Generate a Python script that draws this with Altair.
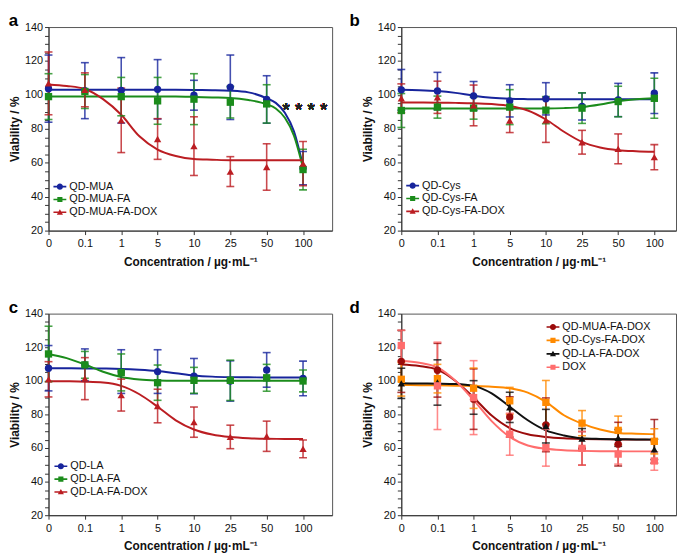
import altair as alt
import pandas as pd

# ---------------- data ----------------
conc_labels = ["0", "0.1", "1", "5", "10", "25", "50", "100"]
x_title = "Concentration / µg·mL⁻¹"
y_title = "Viability / %"

# Panel a
a_series = ["QD-MUA", "QD-MUA-FA", "QD-MUA-FA-DOX"]
a_mean = [
    [103.7, 102.5, 102.7, 103.3, 99.8, 104.5, 97.3, 56.8],
    [99.0, 102.0, 99.0, 96.5, 97.5, 95.7, 94.7, 56.0],
    [106.8, 103.0, 85.0, 74.0, 69.8, 54.8, 57.5, 59.5],
]
a_sd = [
    [19.8, 16.5, 19.3, 17.5, 8.8, 19.0, 14.0, 9.8],
    [13.5, 10.0, 11.3, 13.8, 15.0, 9.3, 11.3, 12.0],
    [18.5, 10.0, 19.0, 12.0, 17.3, 8.8, 13.7, 13.0],
]
a_curve_x = [0, 0.5, 1, 1.5, 2, 2.5, 3, 3.5, 4, 4.5, 5, 5.5, 6, 6.25, 6.5, 6.75, 7]
a_curve_y = [
    [103, 103, 103, 103, 103, 103, 103, 103, 102.9, 102.8, 102.5, 101.5, 98, 95.3, 89.5, 78.5, 58],
    [99, 99, 99, 99, 99, 99, 99, 99, 98.8, 98.5, 98.2, 97, 94.5, 92, 86.5, 76, 57],
    [106.2, 105.3, 103.5, 97.5, 88.3, 75.6, 67.8, 64, 62.2, 61.8, 61.5, 61.5, 61.5, 61.5, 61.5, 61.5, 61.5],
]
a_note = "* * * *"

# Panel b
b_series = ["QD-Cys", "QD-Cys-FA", "QD-Cys-FA-DOX"]
b_mean = [
    [103.0, 102.3, 99.4, 96.5, 97.7, 93.2, 97.0, 101.0],
    [90.8, 92.8, 92.2, 92.8, 91.0, 92.2, 96.1, 98.0],
    [98.0, 98.6, 93.8, 84.8, 85.0, 72.1, 68.2, 63.3],
]
b_sd = [
    [12.0, 11.0, 8.5, 9.5, 9.5, 8.0, 9.8, 12.0],
    [10.0, 6.5, 6.5, 10.3, 8.0, 9.0, 9.0, 11.8],
    [8.5, 9.5, 12.0, 7.0, 13.0, 7.0, 8.8, 7.4],
]
b_curve_x = [0, 0.5, 1, 1.5, 2, 2.5, 3, 3.5, 4, 4.5, 5, 5.5, 6, 6.5, 7]
b_curve_y = [
    [103, 102.8, 102.3, 101.2, 99.5, 98.3, 97.7, 97.5, 97.4, 97.4, 97.4, 97.4, 97.4, 97.4, 97.4],
    [92, 92, 92, 92, 92, 92, 92, 92, 92, 92.2, 92.8, 94.3, 96.3, 97.4, 98],
    [95.5, 95.5, 95.4, 95.3, 95.1, 94.6, 93.5, 90.8, 85.5, 78.3, 72.3, 69, 67.4, 66.8, 66.5],
]

# Panel c
c_series = ["QD-LA", "QD-LA-FA", "QD-LA-FA-DOX"]
c_mean = [
    [107.5, 109.5, 105.5, 105.5, 102.8, 99.9, 106.5, 101.4],
    [116.0, 109.5, 105.0, 98.9, 100.3, 100.3, 101.8, 99.9],
    [100.9, 101.3, 91.5, 85.0, 75.4, 66.6, 67.0, 59.5],
]
c_sd = [
    [13.5, 9.5, 13.0, 13.0, 10.5, 12.0, 10.3, 10.3],
    [16.5, 8.0, 11.0, 10.5, 7.7, 12.0, 8.0, 6.5],
    [10.5, 12.5, 9.5, 10.0, 9.0, 7.0, 9.0, 5.3],
]
c_curve_x = [0, 0.5, 1, 1.5, 2, 2.5, 3, 3.5, 4, 4.5, 5, 5.5, 6, 6.5, 7]
c_curve_y = [
    [107.5, 107.5, 107.4, 107.3, 107.1, 106.6, 105.8, 104.5, 103.2, 102.5, 102.2, 102.1, 102, 102, 102],
    [116, 113.5, 109.7, 105.4, 102.3, 100.8, 100.2, 100, 100, 100, 100, 100, 100, 100, 100],
    [99.8, 99.7, 99.5, 99, 97, 92, 84.6, 76.5, 71, 68, 66.5, 65.8, 65.5, 65.4, 65.3],
]

# Panel d
d_series = ["QD-MUA-FA-DOX", "QD-Cys-FA-DOX", "QD-LA-FA-DOX", "DOX"]
d_mean = [
    [111.6, 106.3, 89.1, 78.5, 73.8, 59.8, 62.3, 64.0],
    [100.9, 101.3, 95.6, 88.1, 87.2, 74.8, 70.5, 64.0],
    [98.5, 99.0, 90.1, 84.2, 73.0, 65.6, 66.0, 59.2],
    [121.0, 97.0, 90.0, 68.2, 60.2, 59.8, 56.4, 52.3],
]
d_sd = [
    [18.5, 16.0, 18.0, 12.0, 16.0, 10.0, 13.0, 13.0],
    [10.0, 8.5, 12.0, 8.0, 13.0, 7.5, 8.5, 7.5],
    [9.0, 13.5, 10.0, 9.0, 10.0, 6.0, 5.0, 6.0],
    [9.0, 26.0, 22.0, 12.5, 11.0, 10.0, 6.0, 5.5],
]
d_curve_x = [0, 0.5, 1, 1.5, 2, 2.5, 3, 3.5, 4, 4.5, 5, 5.5, 6, 6.5, 7]
d_curve_y = [
    [109.7, 108.8, 106.7, 99.9, 90.1, 79.3, 71.9, 68.2, 66.6, 65.8, 65.4, 65.2, 65.1, 65, 65],
    [97.5, 97.4, 97.3, 97.1, 96.9, 96.5, 95.6, 93, 87.5, 79.5, 74.5, 71, 69, 68.5, 68.2],
    [98.5, 98.4, 98.3, 98.1, 97, 92.5, 84.6, 76.5, 70.5, 67.5, 65.8, 65.4, 65.2, 65.1, 65],
    [111.8, 110.8, 108, 100, 88.5, 76, 66.6, 61.5, 59.5, 58.7, 58.3, 58.1, 58, 58, 58],
]

# ---------------- styles ----------------
FONT = "Liberation Sans"
BLUE, GREEN, RED = "#17249c", "#1b8c1b", "#bb1d22"
DRED, ORANGE, BLACK, PINK = "#9b0b0b", "#ff8a00", "#111111", "#ff6d6d"

LEG_CIRCLE = ("M-1.3,-0.16H1.3V0.16H-1.3Z "
              "M0.62,0A0.62,0.62,0,1,1,-0.62,0A0.62,0.62,0,1,1,0.62,0Z")
LEG_SQUARE = ("M-1.3,-0.16H-0.52V-0.52H0.52V-0.16H1.3V0.16H0.52V0.52"
              "H-0.52V0.16H-1.3Z")
LEG_TRI = ("M-1.3,-0.16H-0.27L0,-0.62L0.27,-0.16H1.3V0.16H0.44L0.62,0.48"
           "H-0.62L-0.44,0.16H-1.3Z")

label_js = "[" + ",".join("'" + s + "'" for s in conc_labels) + "][datum.value]"


def panel(letter, series, means, sds, curve_x, curve_ys, colors, shapes,
          leg_shapes, width, height, xmax, leg_x, leg_y, row_pad, title_dx,
          note=None):
    pts = []
    for s, m_list, sd_list in zip(series, means, sds):
        for i, (m, sd) in enumerate(zip(m_list, sd_list)):
            pts.append({"series": s, "x": i, "mean": m, "lo": m - sd, "hi": m + sd})
    pts = pd.DataFrame(pts)
    crv = []
    for s, ys in zip(series, curve_ys):
        for xv, yv in zip(curve_x, ys):
            crv.append({"series": s, "x": xv, "y": yv})
    crv = pd.DataFrame(crv)

    xscale = alt.Scale(domain=[0, xmax], nice=False, zero=False)
    xaxis = alt.Axis(values=list(range(len(conc_labels))),
                     labelExpr=label_js, grid=False, tickSize=4,
                     labelPadding=3, titlePadding=8, labelFlush=False,
                     labelOverlap=False)
    xenc = alt.X("x:Q", title=x_title, scale=xscale, axis=xaxis)
    yaxis = alt.Axis(values=list(range(20, 141, 5)),
                     labelExpr="datum.value % 20 == 0 ? datum.label : ''",
                     grid=False, tickSize=4, labelPadding=2, titlePadding=3,
                     labelOverlap=False)
    yscale = alt.Scale(domain=[20, 140], nice=False, zero=False)
    cscale = alt.Scale(domain=series, range=colors)

    def Y(field):
        return alt.Y(field, title=y_title, scale=yscale, axis=yaxis)

    def col(legend=None):
        return alt.Color("series:N", scale=cscale, legend=legend)

    curves = alt.Chart(crv).mark_line(strokeWidth=2, interpolate="monotone").encode(
        x=xenc, y=Y("y:Q"), color=col(), detail="series:N")
    rules = alt.Chart(pts).mark_rule(strokeWidth=1.6, opacity=0.8).encode(
        x=xenc, y=Y("lo:Q"), y2="hi:Q", color=col())
    cap_lo = alt.Chart(pts).mark_tick(orient="horizontal", size=8, thickness=1.6,
                                      opacity=0.8).encode(
        x=xenc, y=Y("lo:Q"), color=col())
    cap_hi = alt.Chart(pts).mark_tick(orient="horizontal", size=8, thickness=1.6,
                                      opacity=0.8).encode(
        x=xenc, y=Y("hi:Q"), color=col())
    points = alt.Chart(pts).mark_point(filled=True, size=55, opacity=1).encode(
        x=xenc, y=Y("mean:Q"), color=col(),
        shape=alt.Shape("series:N", scale=alt.Scale(domain=series, range=shapes),
                        legend=None))
    leg = alt.Legend(title=None, orient="none", legendX=leg_x, legendY=leg_y,
                     labelFont=FONT, labelFontSize=11, labelColor="#111",
                     symbolSize=100, symbolStrokeWidth=0, rowPadding=row_pad,
                     labelOffset=4, padding=0, symbolOpacity=1)
    legend_layer = alt.Chart(pts).transform_filter("false").mark_point(
        filled=True, size=100, opacity=1).encode(
        x=xenc, y=Y("mean:Q"),
        color=alt.Color("series:N", scale=cscale, legend=leg),
        shape=alt.Shape("series:N", scale=alt.Scale(domain=series, range=leg_shapes),
                        legend=leg))
    layers = [curves, rules, cap_lo, cap_hi, points, legend_layer]
    if note:
        txt = alt.Chart(pts).mark_text(text=note, font=FONT, fontSize=19,
                                       color="#222", baseline="middle",
                                       align="center").encode(
            x=alt.XDatum(7.05, scale=xscale, axis=xaxis, title=x_title),
            y=alt.YDatum(91, scale=yscale, axis=yaxis, title=y_title))
        layers.append(txt)
    return alt.layer(*layers).resolve_scale(color="independent", shape="independent").properties(
        width=width, height=height,
        title=alt.Title(letter, anchor="start", fontSize=17, fontWeight="bold",
                        font=FONT, offset=-9, dx=title_dx, color="#000"))


pa = panel("a", a_series, a_mean, a_sd, a_curve_x, a_curve_y, [BLUE, GREEN, RED],
           ["circle", "square", "triangle-up"], [LEG_CIRCLE, LEG_SQUARE, LEG_TRI],
           287, 206, 7.8, 6, 156, 1, 0, note=a_note)
pb = panel("b", b_series, b_mean, b_sd, b_curve_x, b_curve_y, [BLUE, GREEN, RED],
           ["circle", "square", "triangle-up"], [LEG_CIRCLE, LEG_SQUARE, LEG_TRI],
           278, 206, 7.6, 6, 155, 1, -12)
pc = panel("c", c_series, c_mean, c_sd, c_curve_x, c_curve_y, [BLUE, GREEN, RED],
           ["circle", "square", "triangle-up"], [LEG_CIRCLE, LEG_SQUARE, LEG_TRI],
           287, 204, 7.8, 7, 149, 1, 0)
pd_ = panel("d", d_series, d_mean, d_sd, d_curve_x, d_curve_y, [DRED, ORANGE, BLACK, PINK],
            ["circle", "square", "triangle-up", "square"],
            [LEG_CIRCLE, LEG_SQUARE, LEG_TRI, LEG_SQUARE],
            278, 204, 7.6, 148, 8, 1.6, -12)

chart = alt.vconcat(
    alt.hconcat(pa, pb, spacing=16),
    alt.hconcat(pc, pd_, spacing=16),
    spacing=30,
).properties(padding={"left": 0, "top": 0, "right": 0, "bottom": 0}).configure_view(
    stroke="#555", strokeWidth=1
).configure_axis(
    labelFont=FONT, labelFontSize=11, labelColor="#111",
    titleFont=FONT, titleFontSize=12, titleFontWeight="bold", titleColor="#111",
    domainColor="#333", tickColor="#333", domainWidth=1
)

chart.save("out.html", embed_options={"renderer": "svg", "actions": False})
